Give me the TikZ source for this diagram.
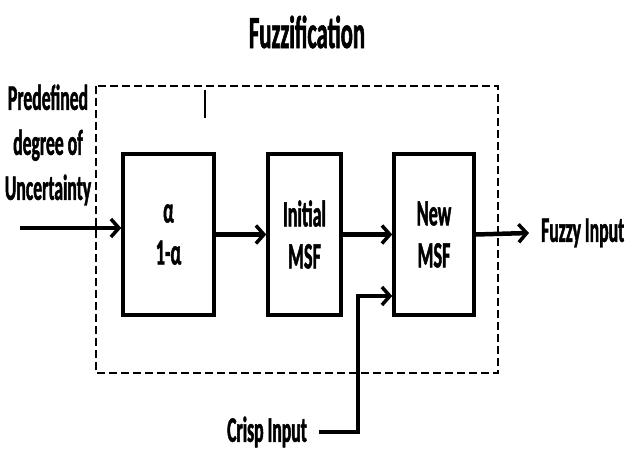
\documentclass[tikz,border=0pt]{standalone}
\usepackage{fontspec}
\setmainfont[FakeStretch=0.49,BoldFeatures={FakeBold=1.2}]{Carlito}
\usetikzlibrary{arrows.meta}
\tikzset{
  blk/.style={draw,line width=3.5pt,minimum height=161pt,inner sep=0pt,align=center,
    font=\bfseries\fontsize{37}{42}\selectfont},
  lbl/.style={inner sep=0pt,align=center,font=\bfseries\fontsize{36}{45}\selectfont},
  arr/.style={line width=4.5pt,-{Straight Barb[length=8pt,width=18pt,line width=3.5pt]}}
}
\begin{document}
\begin{tikzpicture}[x=1pt,y=-1pt]
\useasboundingbox (0,0) rectangle (625,452);
%title
\node[lbl,font=\bfseries\fontsize{46}{50}\selectfont] (title) at (307,32) {Fuzzification};
%dashed frame
\draw[line width=2.8pt,dash pattern=on 8pt off 4pt] (96,86) rectangle (498,373);
\draw[line width=1.4pt] (205,90)--(205,118);
%blocks
\node[blk,minimum width=91pt] (alpha) at (168.5,234.5) {α\\1-α};
\node[blk,minimum width=73pt] (imsf) at (304.5,234.5) {Initial\\MSF};
\node[blk,minimum width=80pt] (nmsf) at (434,234.5) {New\\MSF};
%labels
\node[lbl] (unc) at (48,145) {Predefined\\degree of\\Uncertainty};
\node[lbl,anchor=west] (fzin) at (541,233) {Fuzzy Input};
\node[lbl] (crin) at (267,432) {Crisp Input};
\coordinate (inS) at (20,228);
\coordinate (bend) at (358,296);
%connectors
\draw[arr] (inS)--(inS-|alpha.west);
\draw[arr] (alpha.east)--(imsf.west);
\draw[arr] (imsf.east)--(nmsf.west);
\draw[arr] (nmsf.east)--([xshift=-12pt]fzin.west);
\draw[arr] ([xshift=12pt]crin.east)-|(bend)--(bend-|nmsf.west);
\end{tikzpicture}
\end{document}
